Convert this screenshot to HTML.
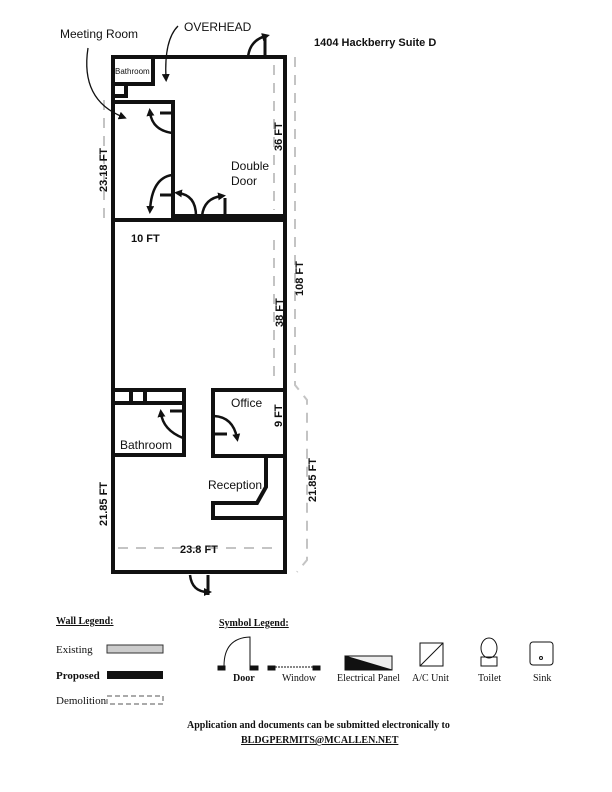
<!DOCTYPE html>
<html><head><meta charset="utf-8"><style>
html,body{margin:0;padding:0;background:#fff}
svg{display:block}
text{font-family:"Liberation Sans",sans-serif;fill:#111}
.s{font-family:"Liberation Serif",serif}
</style></head><body>
<svg width="612" height="792" viewBox="0 0 612 792" xmlns="http://www.w3.org/2000/svg">
<defs>
<marker id="ah" markerWidth="8" markerHeight="8" refX="4" refY="4" orient="auto" markerUnits="userSpaceOnUse"><path d="M0,0 L8,4 L0,8 Z" fill="#111"/></marker>
</defs>
<g stroke="#c4c4c4" stroke-width="2" fill="none" stroke-dasharray="10,8">
<path d="M295,57 L295,385 L307,400 L307,560 L297,572"/>
<path d="M274,240 L274,380"/>
<path d="M274,65 L274,210"/>
<path d="M104,100 L104,220"/>
<path d="M118,548 L280,548"/>
</g>
<g stroke="#111" stroke-width="4" fill="none" stroke-linejoin="miter">
<rect x="113" y="57" width="172" height="515"/>
<path d="M113,220 L285,220"/>
<path d="M173,216 L285,216"/>
<rect x="113" y="57" width="40" height="27"/>
<path d="M113,84 L126,84 L126,96 L113,96"/>
<path d="M113,102 L173,102 L173,218"/>
<rect x="113" y="390" width="71" height="65"/>
<path d="M113,403 L184,403 M131,390 L131,403 M145,390 L145,403"/>
<rect x="213" y="390" width="72" height="66"/>
<path d="M266,456 L266,487 L257,503 L213,503 L213,518 L285,518"/>
</g>
<g stroke="#111" stroke-width="3" fill="none">
<path d="M265,37 L265,57"/>
<path d="M160,113 L172,113"/>
<path d="M160,195 L172,195"/>
<path d="M225,198 L225,216"/>
<path d="M170,411 L184,411"/>
<path d="M214,434 L227,434"/>
<path d="M208,575 L208,595"/>
</g>
<g stroke="#111" stroke-width="2.5" fill="none" marker-end="url(#ah)">
<path d="M248,57 Q250,40 266,36"/>
<path d="M172,133 Q152,130 150,112"/>
<path d="M172,175 Q152,178 150,210"/>
<path d="M196,216 Q196,195 178,193"/>
<path d="M202,216 Q204,198 222,196"/>
<path d="M183,438 Q163,430 161,413"/>
<path d="M214,416 Q233,417 237,438"/>
<path d="M190,575 Q192,592 208,592"/>
</g>
<g stroke="#111" stroke-width="1.3" fill="none" marker-end="url(#ah)">
<path d="M88,48 Q80,100 123,117"/>
<path d="M178,26 Q164,40 166,78"/>
</g>
<text x="60" y="38" font-size="12">Meeting Room</text>
<text x="184" y="31" font-size="12">OVERHEAD</text>
<text x="314" y="46" font-size="11" font-weight="bold">1404 Hackberry Suite D</text>
<text x="115" y="74" font-size="8">Bathroom</text>
<text x="231" y="170" font-size="12">Double</text>
<text x="231" y="185" font-size="12">Door</text>
<text x="131" y="242" font-size="11" font-weight="bold">10 FT</text>
<text x="120" y="449" font-size="12">Bathroom</text>
<text x="231" y="407" font-size="12">Office</text>
<text x="208" y="489" font-size="12">Reception</text>
<text x="180" y="553" font-size="11" font-weight="bold">23.8 FT</text>
<g font-size="11" font-weight="bold">
<text transform="translate(107,192) rotate(-90)">23.18 FT</text>
<text transform="translate(282,151) rotate(-90)">36 FT</text>
<text transform="translate(303,296) rotate(-90)">108 FT</text>
<text transform="translate(283,327) rotate(-90)">38 FT</text>
<text transform="translate(282,427) rotate(-90)">9 FT</text>
<text transform="translate(107,526) rotate(-90)">21.85 FT</text>
<text transform="translate(316,502) rotate(-90)">21.85 FT</text>
</g>
<text x="56" y="624" font-size="10" class="s" font-weight="bold" text-decoration="underline">Wall Legend:</text>
<text x="56" y="653" font-size="11" class="s">Existing</text>
<text x="56" y="679" font-size="11" class="s" font-weight="bold">Proposed</text>
<text x="56" y="704" font-size="11" class="s">Demolition</text>
<text x="219" y="626" font-size="10" class="s" font-weight="bold" text-decoration="underline">Symbol Legend:</text>
<text x="233" y="681" font-size="10" class="s" font-weight="bold">Door</text>
<text x="282" y="681" font-size="10" class="s">Window</text>
<text x="337" y="681" font-size="10" class="s">Electrical Panel</text>
<text x="412" y="681" font-size="10" class="s">A/C Unit</text>
<text x="478" y="681" font-size="10" class="s">Toilet</text>
<text x="533" y="681" font-size="10" class="s">Sink</text>
<text x="187" y="728" font-size="10" class="s" font-weight="bold">Application and documents can be submitted electronically to</text>
<text x="241" y="743" font-size="10" class="s" font-weight="bold" text-decoration="underline">BLDGPERMITS@MCALLEN.NET</text>
<rect x="107" y="645" width="56" height="8" fill="#ccc" stroke="#333" stroke-width="1"/>
<rect x="107" y="671" width="56" height="8" fill="#111"/>
<rect x="107" y="696" width="56" height="8" fill="none" stroke="#555" stroke-width="1" stroke-dasharray="5,3"/>
<g stroke="#111" fill="none" stroke-width="1">
<rect x="218" y="666" width="7" height="4" fill="#111"/>
<rect x="250" y="666" width="8" height="4" fill="#111"/>
<path d="M224,666 Q224,638 250,637 L250,666"/>
<rect x="268" y="666" width="7" height="4" fill="#111"/>
<rect x="313" y="666" width="7" height="4" fill="#111"/>
<path d="M275,667 L313,667" stroke-dasharray="2,1"/>
<rect x="345" y="656" width="47" height="14" fill="#eee"/>
<path d="M345,656 L392,670 L345,670 Z" fill="#111"/>
<rect x="420" y="643" width="23" height="23"/>
<path d="M420,666 L443,643"/>
<ellipse cx="489" cy="648" rx="8" ry="10"/>
<rect x="481" y="657" width="16" height="9"/>
<rect x="530" y="642" width="23" height="23" rx="3"/>
<circle cx="541" cy="658" r="1.5"/>
</g>
</svg>
</body></html>
